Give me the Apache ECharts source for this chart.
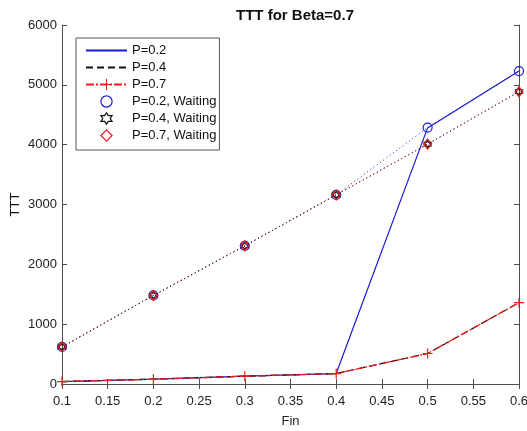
<!DOCTYPE html>
<html><head><meta charset="utf-8">
<script src="https://cdn.jsdelivr.net/npm/echarts@6/dist/echarts.min.js"></script>
<style>html,body{margin:0;padding:0;background:#fff}#c{width:527px;height:431px}</style>
</head><body><div id="c"></div>
<script>
const fin = [0.1, 0.2, 0.3, 0.4, 0.5, 0.6];
const p02 = [40, 80, 130, 175, 4280, 5230];
const p04 = [40, 80, 130, 175, 510, 1360];
const p07 = [40, 80, 130, 175, 510, 1360];
const p02w = [620, 1480, 2310, 3160, 4285, 5230];
const p04w = [620, 1480, 2310, 3160, 4010, 4885];
const p07w = [620, 1480, 2310, 3160, 4010, 4885];
const names = ['P=0.2', 'P=0.4', 'P=0.7', 'P=0.2, Waiting', 'P=0.4, Waiting', 'P=0.7, Waiting'];
const titleText = 'TTT for Beta=0.7';

const BLUE = '#1a1ad6', RED = '#ee1c1c', BLACK = '#111111';
const CLEAR = 'rgba(255,255,255,0)';
const FONT = 'Liberation Sans, Arial, sans-serif';
const pairs = ys => fin.map((x, i) => [x, ys[i]]);
const PLUS = 'path://M0,50L100,50M50,0L50,100';
const HEX = 'path://M100,0L128.9,50L186.6,50L157.7,100L186.6,150L128.9,150L100,200L71.1,150L13.4,150L42.3,100L13.4,50L71.1,50Z';
const DOT = [1, 3];

const chart = echarts.init(document.getElementById('c'), null, {renderer: 'canvas'});
const axisCommon = {
  axisLine: {show: true, lineStyle: {color: '#4d4d4d', width: 1}},
  axisTick: {show: true, inside: true, length: 5, lineStyle: {color: '#4d4d4d'}},
  splitLine: {show: false}
};
chart.setOption({
  animation: false,
  backgroundColor: '#fff',
  title: {text: titleText, left: 290, top: 3, textAlign: 'center',
    textStyle: {fontFamily: FONT, fontSize: 15, fontWeight: 'bold', color: '#111'}},
  grid: {left: 62, right: 8, top: 25, bottom: 47, outerBoundsMode: 'none'},
  legend: {
    orient: 'vertical', left: 76, top: 38,
    padding: [6, 3, 8, 9], itemGap: 4, itemWidth: 41, itemHeight: 14, itemTextGap: 5,
    borderColor: '#555', borderWidth: 1, backgroundColor: '#fff',
    textStyle: {fontFamily: FONT, fontSize: 13, color: '#111'},
    selectedMode: false,
    data: [
      {name: names[0], itemStyle: {opacity: 0}},
      {name: names[1], itemStyle: {opacity: 0}},
      {name: names[2], itemStyle: {borderWidth: 1}},
      {name: names[3], lineStyle: {opacity: 0}, itemStyle: {borderWidth: 1.2}},
      {name: names[4], lineStyle: {opacity: 0}, itemStyle: {borderWidth: 1.2}},
      {name: names[5], lineStyle: {opacity: 0}, itemStyle: {borderWidth: 1.2}}
    ]
  },
  xAxis: [
    Object.assign({type: 'value', min: 0.1, max: 0.6, interval: 0.05, position: 'bottom',
      axisLabel: {fontFamily: FONT, fontSize: 13, color: '#222', margin: 11,
        formatter: v => String(+v.toFixed(2))},
      name: 'Fin', nameLocation: 'middle', nameGap: 31, nameMoveOverlap: false,
      nameTextStyle: {fontFamily: FONT, fontSize: 13, color: '#222'}}, axisCommon),
    Object.assign({type: 'value', min: 0.1, max: 0.6, interval: 0.05, position: 'top',
      axisLabel: {show: false}}, axisCommon)
  ],
  yAxis: [
    Object.assign({type: 'value', min: 0, max: 6000, interval: 1000, position: 'left',
      axisLabel: {fontFamily: FONT, fontSize: 13, color: '#222', margin: 5,
        formatter: v => String(v)},
      name: 'TTT', nameLocation: 'middle', nameGap: 40, nameMoveOverlap: false,
      nameTextStyle: {fontFamily: FONT, fontSize: 13, color: '#111'}}, axisCommon),
    Object.assign({type: 'value', min: 0, max: 6000, interval: 1000, position: 'right',
      axisLabel: {show: false}}, axisCommon)
  ],
  series: [
    {name: names[0], type: 'line', data: pairs(p02), symbol: 'none',
      lineStyle: {color: BLUE, width: 1.2}, itemStyle: {color: BLUE}, emphasis: {disabled: true}},
    {name: names[1], type: 'line', data: pairs(p04), symbol: 'none',
      lineStyle: {color: BLACK, width: 1.2, type: [7, 4]}, itemStyle: {color: BLACK}, emphasis: {disabled: true}},
    {name: names[2], type: 'line', data: pairs(p07), symbol: PLUS, symbolSize: 10,
      lineStyle: {color: RED, width: 1.3, type: [8, 2, 2, 2]},
      itemStyle: {color: RED, borderColor: RED, borderWidth: 1.2}, emphasis: {disabled: true}},
    {name: names[3], type: 'line', data: pairs(p02w), symbol: 'circle', symbolSize: 9,
      lineStyle: {color: BLUE, width: 1, type: DOT},
      itemStyle: {color: CLEAR, borderColor: BLUE, borderWidth: 1.2}, emphasis: {disabled: true}},
    {name: names[4], type: 'line', data: pairs(p04w), symbol: HEX, symbolSize: 7,
      lineStyle: {color: BLACK, width: 1, type: DOT},
      itemStyle: {color: CLEAR, borderColor: BLACK, borderWidth: 1.2}, emphasis: {disabled: true}},
    {name: names[5], type: 'line', data: pairs(p07w), symbol: 'diamond', symbolSize: [8, 10],
      lineStyle: {color: '#a0141e', width: 1, type: DOT},
      itemStyle: {color: CLEAR, borderColor: RED, borderWidth: 1.2}, emphasis: {disabled: true}}
  ]
});
</script></body></html>
